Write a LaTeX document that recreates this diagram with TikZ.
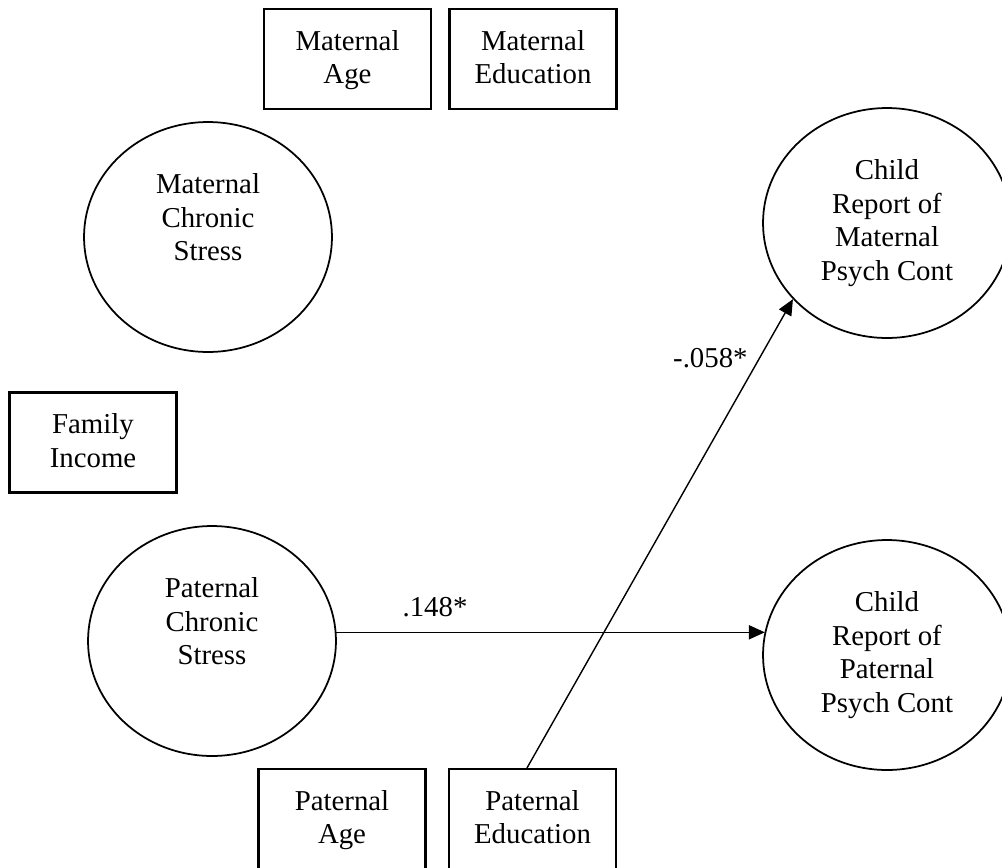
\documentclass[tikz,border=0pt]{standalone}
\usepackage{fontspec}
\setmainfont{Liberation Serif}
\usetikzlibrary{shapes.geometric,arrows.meta}

\begin{document}
\begin{tikzpicture}[x=0.02cm,y=-0.02cm,
    font=\fontsize{16.4}{19.1}\selectfont,
    obsbox/.style={draw,line width=1.2pt,minimum width=3.34cm,minimum height=2cm,align=center,inner sep=0pt,text depth=0.22em},
    latent/.style={draw,ellipse,line width=1pt,minimum width=4.96cm,minimum height=4.6cm,align=center,inner sep=0pt},
    effect/.style={line width=0.8pt,-{Triangle[length=9pt,width=8pt]}}]
  \useasboundingbox (0,0) rectangle (1002,867);

  %% measured variables
  \node[obsbox] (MatAge) at (347.5,59) {Maternal\\Age};
  \node[obsbox] (MatEdu) at (533,59) {Maternal\\Education};
  \node[obsbox] (FamInc) at (93,442.5) {Family\\Income};
  \node[obsbox] (PatAge) at (342,819) {Paternal\\Age};
  \node[obsbox] (PatEdu) at (532.5,819) {Paternal\\Education};

  %% latent variables
  \node[latent,text depth=22.6pt] (MatStress) at (208,237) {Maternal\\Chronic\\Stress};
  \node[latent,text depth=22.6pt] (PatStress) at (212,641) {Paternal\\Chronic\\Stress};
  \node[latent] (ChildMat) at (887,223) {Child\\Report of\\Maternal\\Psych Cont};
  \node[latent] (ChildPat) at (887,655) {Child\\Report of\\Paternal\\Psych Cont};

  %% paths
  \draw[effect] (PatStress.4) -- (PatStress.4 -| ChildPat.169)
    node[pos=0.23,above=5pt] {.148*};
  \draw[effect] ([xshift=-0.11cm]PatEdu.north) -- (ChildMat.219)
    node[pos=0.874,left=3pt] {-.058*};
\end{tikzpicture}
\end{document}
